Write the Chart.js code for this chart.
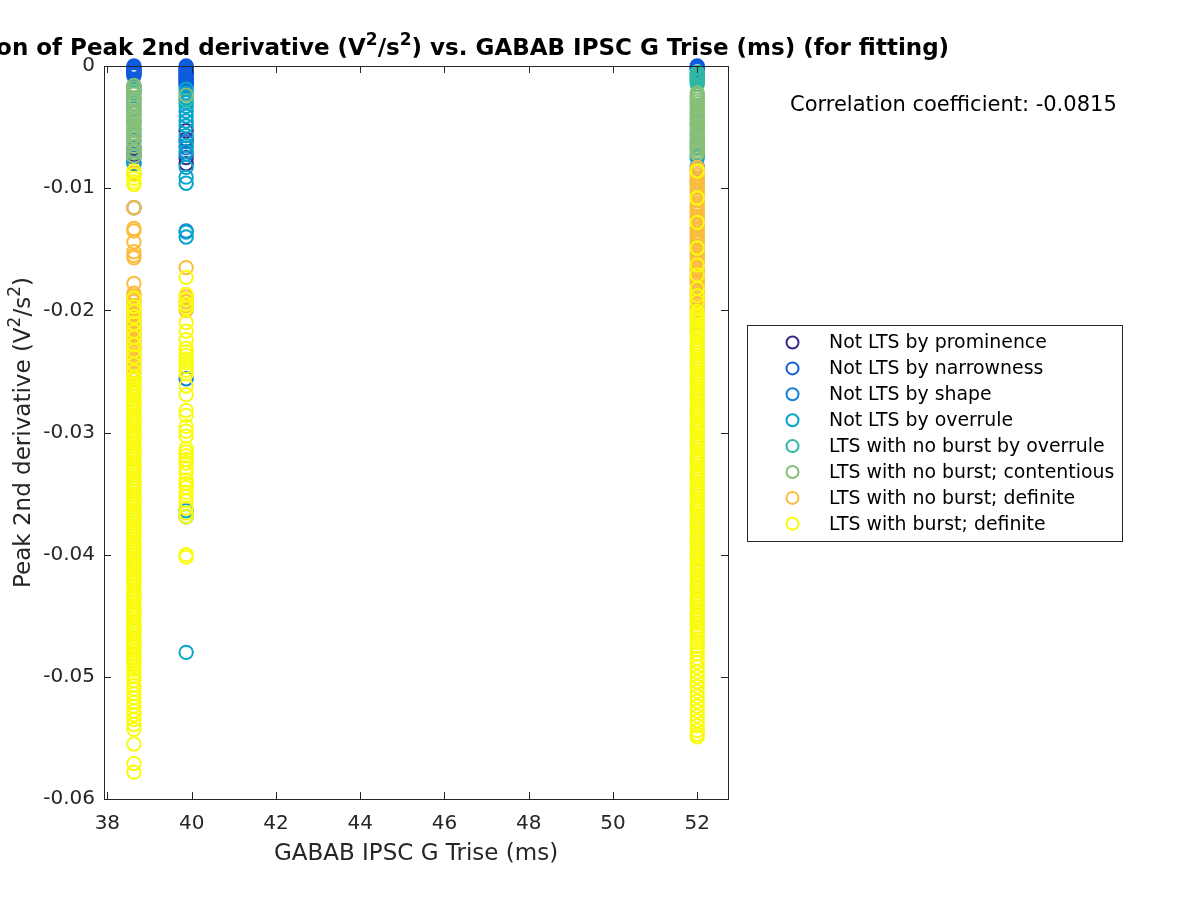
<!DOCTYPE html>
<html>
<head>
<meta charset="utf-8">
<script src="https://cdn.jsdelivr.net/npm/chart.js@4.4.1/dist/chart.umd.min.js"></script>
<style>
  body { margin: 0; background: #fff; }
  canvas { display: block; }
</style>
</head>
<body>
<canvas id="chart" width="1200" height="900"></canvas>
<script>
const categories = [
    "Not LTS by prominence",
    "Not LTS by narrowness",
    "Not LTS by shape",
    "Not LTS by overrule",
    "LTS with no burst by overrule",
    "LTS with no burst; contentious",
    "LTS with no burst; definite",
    "LTS with burst; definite"
];
const colors = ["#352a87", "#0f5cdd", "#1481d6", "#06a4ca", "#2eb7a4", "#87bf77", "#fbbc3c", "#f9fb0e"];

// GABAB IPSC G Trise (ms) of the three columns
const triseValues = [38.63, 39.87, 52.0];
const xTicks = [38, 40, 42, 44, 46, 48, 50, 52];
const yTicks = [-0.06, -0.05, -0.04, -0.03, -0.02, -0.01, 0];
const correlationCoefficient = -0.0815;

// peak 2nd derivative (V^2/s^2), one list per column
const notLtsProminence = [
    [-0.0067, -0.0072, -0.0079],
    [-0.0053, -0.0060, -0.0075, -0.0080],
    []
];
const notLtsNarrowness = [
    [0, -0.0001, -0.0002, -0.0003, -0.0004, -0.0005, -0.0006, -0.0007, -0.0008, -0.0016, -0.0027],
    [0, -0.0001, -0.0002, -0.0003, -0.0004, -0.0005, -0.0006, -0.0007, -0.0008, -0.0009, -0.0010, -0.0011, -0.0012, -0.0013, -0.0014, -0.0015, -0.0016],
    [0, -0.0001, -0.0002, -0.0003]
];
const notLtsShape = [
    [-0.0031, -0.0045, -0.0061, -0.0075, -0.0116],
    [-0.0062, -0.0067, -0.0072, -0.0135, -0.0256],
    [-0.0063, -0.0073, -0.0082]
];
const notLtsOverrule = [
    [-0.0018, -0.0022, -0.0035, -0.0052, -0.0069, -0.0080],
    [-0.0019, -0.0022, -0.0026, -0.0030, -0.0033, -0.0037, -0.0041, -0.0045, -0.0049, -0.0057, -0.0065, -0.0070,
     -0.0083, -0.0091, -0.0096, -0.0136, -0.0140, -0.0364, -0.0369, -0.0480],
    [-0.0047, -0.0056, -0.0067, -0.0075, -0.0085, -0.0095]
];
const ltsNoBurstOverrule = [
    [-0.0020, -0.0039, -0.0057],
    [-0.0028],
    [-0.0005, -0.0006, -0.0007, -0.0008, -0.0009, -0.0010, -0.0011, -0.0012, -0.0013, -0.0015]
];
const ltsNoBurstContentious = [
    [-0.0016, -0.0018, -0.0021, -0.0023, -0.0026, -0.0028, -0.0031, -0.0034, -0.0037, -0.0039, -0.0041, -0.0043,
     -0.0045, -0.0047, -0.0049, -0.0051, -0.0053, -0.0055, -0.0058, -0.0063, -0.0066, -0.0069, -0.0071, -0.0074],
    [-0.0024],
    [-0.0022, -0.0024, -0.0026, -0.0028, -0.0030, -0.0032, -0.0034, -0.0036, -0.0038, -0.0040, -0.0042, -0.0044,
     -0.0046, -0.0048, -0.0050, -0.0052, -0.0054, -0.0056, -0.0058, -0.0060, -0.0062, -0.0064, -0.0066, -0.0068,
     -0.0070, -0.0072]
];
const ltsNoBurstDefinite = [
    [-0.0088, -0.0116, -0.0133, -0.0135, -0.0144, -0.0152, -0.0155, -0.0157, -0.0178, -0.0186, -0.0188, -0.0191,
     -0.0193, -0.0196, -0.0199, -0.0202, -0.0204, -0.0207, -0.0209, -0.0212, -0.0214, -0.0216, -0.0219, -0.0221,
     -0.0224, -0.0226, -0.0229, -0.0231, -0.0234, -0.0237, -0.0240, -0.0243, -0.0246, -0.0249, -0.0252, -0.0256],
    [-0.0165, -0.0189, -0.0193, -0.0196, -0.0200],
    [-0.0083, -0.0085, -0.0087, -0.0089, -0.0091, -0.0093, -0.0096, -0.0098, -0.0100, -0.0102, -0.0104, -0.0106,
     -0.0108, -0.0110, -0.0113, -0.0115, -0.0117, -0.0119, -0.0121, -0.0123, -0.0125, -0.0127, -0.0130, -0.0132,
     -0.0134, -0.0136, -0.0138, -0.0140, -0.0142, -0.0144, -0.0147, -0.0149, -0.0151, -0.0153, -0.0155, -0.0157,
     -0.0159, -0.0161, -0.0164, -0.0166, -0.0168, -0.0170, -0.0172, -0.0174, -0.0176, -0.0178, -0.0181, -0.0183,
     -0.0185, -0.0187, -0.0189, -0.0191, -0.0193, -0.0195, -0.0198, -0.0200, -0.0203, -0.0206, -0.0211, -0.0216]
];
const ltsBurstDefinite = [
    [-0.0086, -0.0089, -0.0092, -0.0095, -0.0097, -0.0190, -0.0197, -0.0201, -0.0205, -0.0211, -0.0217, -0.0222,
     -0.0228, -0.0233, -0.0238, -0.0244, -0.0250,
     -0.0255, -0.0257, -0.0260, -0.0262, -0.0264, -0.0266, -0.0268, -0.0270, -0.0273, -0.0275, -0.0277, -0.0279,
     -0.0281, -0.0283, -0.0286, -0.0288, -0.0290, -0.0292, -0.0294, -0.0296, -0.0299, -0.0301, -0.0303, -0.0305,
     -0.0307, -0.0309, -0.0312, -0.0314, -0.0316, -0.0318, -0.0320, -0.0322, -0.0325, -0.0327, -0.0329, -0.0331,
     -0.0333, -0.0335, -0.0338, -0.0340, -0.0342, -0.0344, -0.0346, -0.0348, -0.0351, -0.0353, -0.0355, -0.0357,
     -0.0359, -0.0361, -0.0364, -0.0366, -0.0368, -0.0370, -0.0372, -0.0374, -0.0377, -0.0379, -0.0381, -0.0383,
     -0.0385, -0.0387, -0.0390, -0.0392, -0.0394, -0.0396, -0.0398, -0.0400, -0.0403, -0.0405, -0.0407, -0.0409,
     -0.0411, -0.0413, -0.0416, -0.0418, -0.0420, -0.0422, -0.0424, -0.0426, -0.0429, -0.0431, -0.0433, -0.0435,
     -0.0437, -0.0439, -0.0442, -0.0444, -0.0446, -0.0448, -0.0450, -0.0452, -0.0455, -0.0457, -0.0459, -0.0461,
     -0.0463, -0.0465, -0.0468, -0.0470, -0.0472, -0.0474, -0.0476, -0.0478, -0.0481, -0.0483, -0.0485, -0.0487,
     -0.0489, -0.0491,
     -0.0494, -0.0497, -0.0500, -0.0503, -0.0507, -0.0510, -0.0514, -0.0517, -0.0521, -0.0524, -0.0528, -0.0531,
     -0.0535, -0.0539, -0.0543, -0.0555, -0.0571, -0.0578],
    [-0.0173, -0.0187, -0.0191, -0.0195, -0.0198, -0.0210, -0.0217, -0.0224, -0.0231, -0.0234, -0.0237, -0.0240,
     -0.0243, -0.0246, -0.0249, -0.0252, -0.0262, -0.0269, -0.0282, -0.0286, -0.0295, -0.0299, -0.0303, -0.0313,
     -0.0316, -0.0319, -0.0322, -0.0325, -0.0329, -0.0333, -0.0339, -0.0342, -0.0345, -0.0349, -0.0352, -0.0356,
     -0.0362, -0.0366, -0.0369, -0.0400, -0.0402],
    [-0.0086, -0.0108, -0.0128, -0.0149, -0.0163, -0.0171, -0.0182, -0.0188, -0.0193,
     -0.0201, -0.0203, -0.0205, -0.0207, -0.0209, -0.0212, -0.0214, -0.0216, -0.0218, -0.0220, -0.0222, -0.0225,
     -0.0227, -0.0229, -0.0231, -0.0233, -0.0235, -0.0238, -0.0240, -0.0242, -0.0244, -0.0246, -0.0248, -0.0251,
     -0.0253, -0.0255, -0.0257, -0.0259, -0.0261, -0.0264, -0.0266, -0.0268, -0.0270, -0.0272, -0.0274, -0.0277,
     -0.0279, -0.0281, -0.0283, -0.0285, -0.0287, -0.0290, -0.0292, -0.0294, -0.0296, -0.0298, -0.0300, -0.0303,
     -0.0305, -0.0307, -0.0309, -0.0311, -0.0313, -0.0316, -0.0318, -0.0320, -0.0322, -0.0324, -0.0326, -0.0329,
     -0.0331, -0.0333, -0.0335, -0.0337, -0.0339, -0.0342, -0.0344, -0.0346, -0.0348, -0.0350, -0.0352, -0.0355,
     -0.0357, -0.0359, -0.0361, -0.0363, -0.0365, -0.0368, -0.0370, -0.0372, -0.0374, -0.0376, -0.0378, -0.0381,
     -0.0383, -0.0385, -0.0387, -0.0389, -0.0391, -0.0394, -0.0396, -0.0398, -0.0400, -0.0402, -0.0404, -0.0407,
     -0.0409, -0.0411, -0.0413, -0.0415, -0.0417, -0.0420, -0.0422, -0.0424, -0.0426, -0.0428, -0.0430, -0.0433,
     -0.0435, -0.0437, -0.0439, -0.0441, -0.0443, -0.0446, -0.0448, -0.0450, -0.0452, -0.0454, -0.0456, -0.0459,
     -0.0461, -0.0463,
     -0.0466, -0.0469, -0.0472, -0.0475, -0.0478, -0.0481, -0.0485, -0.0488, -0.0492, -0.0496, -0.0500, -0.0504,
     -0.0508, -0.0512, -0.0516, -0.0520, -0.0524, -0.0528, -0.0532, -0.0536, -0.0540, -0.0544, -0.0547, -0.0549]
];

const peakValues = [notLtsProminence, notLtsNarrowness, notLtsShape, notLtsOverrule,
    ltsNoBurstOverrule, ltsNoBurstContentious, ltsNoBurstDefinite, ltsBurstDefinite];

const FONT = "DejaVu Sans";
const INK = "#262626";

function toPoints(columns) {
    const pts = [];
    columns.forEach((ys, i) => ys.forEach(y => pts.push({ x: triseValues[i], y: y })));
    return pts;
}

// text with superscripts: parts = [[text, isSup], ...]
function drawRich(ctx, parts, x, y, size, weight, rotate) {
    const fontFor = sup => `${weight} ${sup ? Math.round(size * 0.72) : size}px "${FONT}"`;
    let total = 0;
    parts.forEach(([t, sup]) => { ctx.font = fontFor(sup); total += ctx.measureText(t).width; });
    ctx.save();
    ctx.translate(x, y);
    if (rotate) ctx.rotate(-Math.PI / 2);
    ctx.textAlign = "left";
    ctx.textBaseline = "alphabetic";
    let cx = -total / 2;
    parts.forEach(([t, sup]) => {
        ctx.font = fontFor(sup);
        ctx.fillText(t, cx, sup ? -size * 0.42 : 0);
        cx += ctx.measureText(t).width;
    });
    ctx.restore();
}

const matlabFrame = {
    id: "matlabFrame",
    afterDraw(chart) {
        const ctx = chart.ctx;
        const a = chart.chartArea;
        const xs = chart.scales.x, ys = chart.scales.y;
        ctx.save();
        ctx.strokeStyle = INK;
        ctx.lineWidth = 1;
        ctx.strokeRect(Math.round(a.left) + 0.5, Math.round(a.top) + 0.5, Math.round(a.right - a.left), Math.round(a.bottom - a.top));
        ctx.beginPath();
        xTicks.forEach(v => {
            const px = Math.round(xs.getPixelForValue(v)) + 0.5;
            ctx.moveTo(px, a.bottom); ctx.lineTo(px, a.bottom - 7);
            ctx.moveTo(px, a.top); ctx.lineTo(px, a.top + 7);
        });
        yTicks.forEach(v => {
            const py = Math.round(ys.getPixelForValue(v)) + 0.5;
            ctx.moveTo(a.left, py); ctx.lineTo(a.left + 7, py);
            ctx.moveTo(a.right, py); ctx.lineTo(a.right - 7, py);
        });
        ctx.stroke();

        const midX = (a.left + a.right) / 2;
        ctx.fillStyle = "#000";
        drawRich(ctx, [["Correlation of Peak 2nd derivative (V", false], ["2", true], ["/s", false], ["2", true],
            [") vs. GABAB IPSC G Trise (ms) (for fitting)", false]], midX, 55, 23, "bold", false);
        ctx.fillStyle = INK;
        drawRich(ctx, [["GABAB IPSC G Trise (ms)", false]], midX, 860, 23, "normal", false);
        drawRich(ctx, [["Peak 2nd derivative (V", false], ["2", true], ["/s", false], ["2", true], [")", false]],
            30, (a.top + a.bottom) / 2, 23, "normal", true);

        ctx.fillStyle = "#000";
        ctx.font = `21px "${FONT}"`;
        ctx.textAlign = "left";
        ctx.textBaseline = "alphabetic";
        ctx.fillText("Correlation coefficient: " + correlationCoefficient.toFixed(4), 790, 111);

        // legend
        ctx.fillStyle = "#fff";
        ctx.fillRect(747.5, 325.5, 375, 216);
        ctx.strokeStyle = INK;
        ctx.strokeRect(747.5, 325.5, 375, 216);
        ctx.font = `18.9px "${FONT}"`;
        ctx.textBaseline = "middle";
        chart.data.datasets.forEach((ds, i) => {
            const cy = 342.5 + i * 25.9;
            ctx.beginPath();
            ctx.arc(792.5, cy, 6, 0, Math.PI * 2);
            ctx.strokeStyle = ds.borderColor;
            ctx.lineWidth = 2;
            ctx.stroke();
            ctx.fillStyle = "#000";
            ctx.fillText(ds.label, 829, cy + 1);
        });
        ctx.restore();
    }
};

new Chart(document.getElementById("chart"), {
    type: "scatter",
    data: {
        datasets: categories.map((name, i) => ({
            label: name,
            data: toPoints(peakValues[i]),
            borderColor: colors[i],
            backgroundColor: "rgba(0,0,0,0)",
            pointRadius: 6.7,
            pointBorderWidth: 2,
            pointStyle: "circle",
            order: categories.length - i,
            clip: false
        }))
    },
    options: {
        responsive: false,
        animation: false,
        events: [],
        layout: { padding: { left: 0, right: 472, top: 66, bottom: 0 } },
        plugins: {
            legend: { display: false },
            title: { display: false },
            tooltip: { enabled: false }
        },
        scales: {
            x: {
                type: "linear",
                min: 37.92,
                max: 52.73,
                grid: { display: false, drawTicks: false },
                border: { display: false },
                afterBuildTicks: s => { s.ticks = xTicks.map(v => ({ value: v })); },
                afterFit: s => { s.height = 101; },
                ticks: {
                    font: { family: FONT, size: 20 },
                    color: INK,
                    padding: 13,
                    maxRotation: 0,
                    autoSkip: false,
                    callback: v => String(v)
                }
            },
            y: {
                type: "linear",
                min: -0.06,
                max: 0,
                grid: { display: false, drawTicks: false },
                border: { display: false },
                afterBuildTicks: s => { s.ticks = yTicks.map(v => ({ value: v })); },
                afterFit: s => { s.width = 104; },
                ticks: {
                    font: { family: FONT, size: 20 },
                    color: INK,
                    padding: 9,
                    autoSkip: false,
                    callback: v => v === 0 ? "0" : v.toFixed(2)
                }
            }
        }
    },
    plugins: [matlabFrame]
});
</script>
</body>
</html>
